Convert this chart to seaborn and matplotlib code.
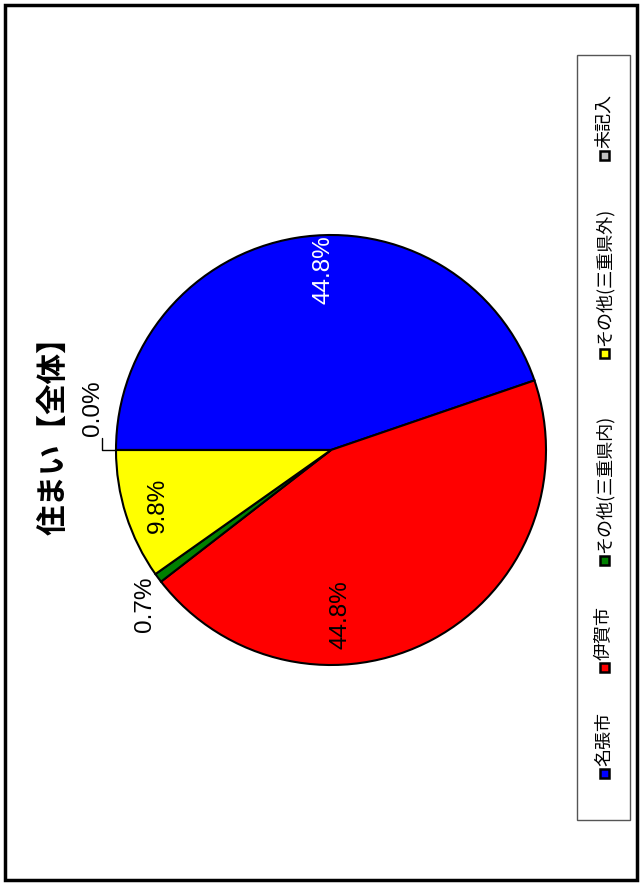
import matplotlib
matplotlib.use("Agg")
import matplotlib.pyplot as plt
from matplotlib.patches import Rectangle
import seaborn as sns

# Residence breakdown (all respondents)
title = "住まい【全体】"
categories = ["名張市", "伊賀市", "その他(三重県内)", "その他(三重県外)", "未記入"]
shares = [44.8, 44.8, 0.7, 9.8, 0.0]
slice_colors = ["#0000FF", "#FF0000", "#008000", "#FFFF00", "#C0C0C0"]
label_colors = ["white", "black", "black", "black", "black"]

sns.set_theme(style="white")
plt.rcParams["font.family"] = ["Noto Sans CJK JP", "DejaVu Sans"]
num_font = ["Liberation Sans Narrow", "Liberation Sans", "DejaVu Sans"]

W, H = 642, 883
fig = plt.figure(figsize=(W / 100, H / 100), dpi=100)
fig.patch.set_facecolor("white")


def fx(px):
    return px / W


def fy(py):
    return 1 - py / H


# pie axes: centre (331, 450) px, radius 215 px
cx, cy, R = 331, 450, 215
ax = fig.add_axes([fx(cx - R), fy(cy + R), 2 * R / W, 2 * R / H])
palette = sns.color_palette(slice_colors)
ax.pie(shares, colors=palette, startangle=180, counterclock=False,
       radius=1.0, wedgeprops=dict(edgecolor="black", linewidth=1.5))
ax.set_xlim(-1, 1)
ax.set_ylim(-1, 1)
ax.set_aspect("equal")
ax.axis("off")

# percentage labels (rotated with the chart)
label_pos = [(-0.033, 0.837), (0.042, -0.767), (-0.865, -0.716),
             (-0.805, -0.256), (-1.107, 0.195)]
for val, (lx, ly), col in zip(shares, label_pos, label_colors):
    ax.text(lx, ly, f"{val:.1f}%", rotation=90, ha="center", va="center",
            fontsize=17.5, color=col, family=num_font, clip_on=False)

# leader line for the empty slice
ax.plot([-1.0, -1.065, -1.065], [0.0, 0.0, 0.056], color="black",
        linewidth=1.0, clip_on=False)

# title
fig.text(fx(54), fy(428), title, rotation=90, ha="center", va="center",
         fontsize=22, fontweight="bold", color="black")

# legend box
fig.add_artist(Rectangle((fx(577), fy(820)), fx(630) - fx(577), fy(55) - fy(820),
                         transform=fig.transFigure, fill=False,
                         edgecolor="#555555", linewidth=1.0))
marker_y = [773, 667, 560, 353, 155]
lx = 604
for name, col, my in zip(categories, slice_colors, marker_y):
    s = 9
    fig.add_artist(Rectangle((fx(lx - s / 2), fy(my + s / 2)), s / W, s / H,
                             transform=fig.transFigure, facecolor=col,
                             edgecolor="black", linewidth=1.8))
    fig.text(fx(lx), fy(my - 7), name, rotation=90, ha="center", va="bottom",
             fontsize=13, color="black")

# outer frame
fig.add_artist(Rectangle((fx(5), fy(880)), fx(637) - fx(5), fy(5) - fy(880),
                         transform=fig.transFigure, fill=False,
                         edgecolor="black", linewidth=2.5))

fig.savefig("out.png", dpi=100)
